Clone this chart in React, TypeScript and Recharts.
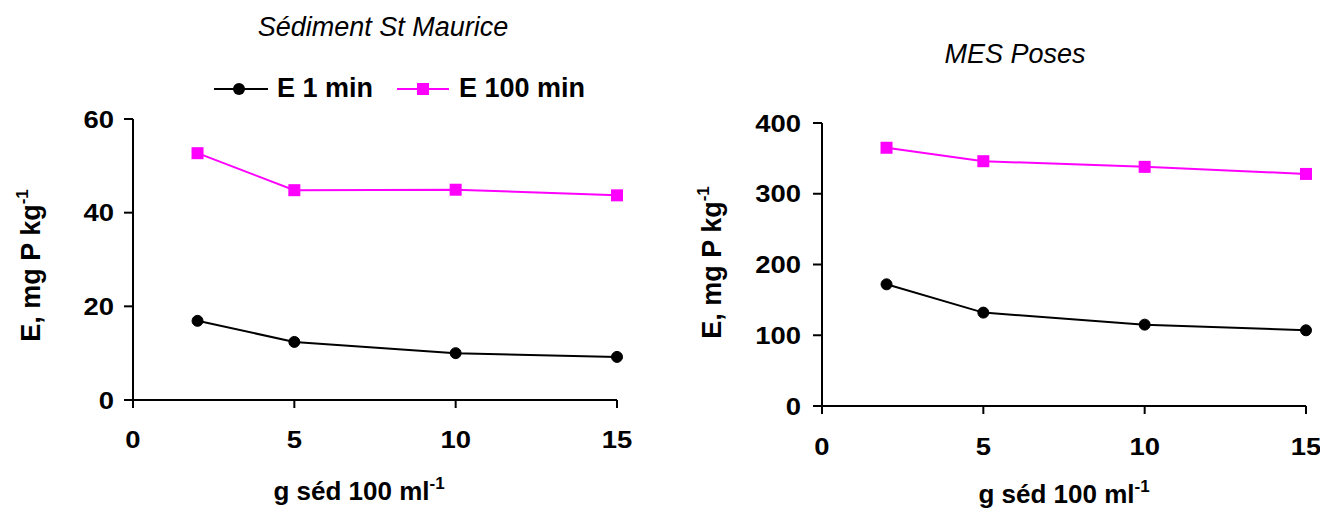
import React from 'react';
import { LineChart, Line, XAxis, YAxis, Legend } from 'recharts';

const FONT = "'Liberation Sans', Arial, Helvetica, sans-serif";
const PINK = '#FF00FF';

// Data
const xValues = [2, 5, 10, 15];
const xTicks = [0, 5, 10, 15];
const stMauriceE1 = [16.9, 12.4, 10.0, 9.2];
const stMauriceE100 = [52.7, 44.8, 44.9, 43.7];
const posesE1 = [172, 132, 115, 107];
const posesE100 = [365, 346, 338, 328];
const stMauriceYTicks = [0, 20, 40, 60];
const posesYTicks = [0, 100, 200, 300, 400];
const seriesNames = { e1: 'E 1 min', e100: 'E 100 min' };
const leftTitle = 'Sédiment St Maurice';
const rightTitle = 'MES Poses';
const yTitle = 'E, mg P kg';
const xTitle = 'g séd 100 ml';

const leftData = xValues.map((x, i) => ({ x, e1: stMauriceE1[i], e100: stMauriceE100[i] }));
const rightData = xValues.map((x, i) => ({ x, e1: posesE1[i], e100: posesE100[i] }));

const axisLine = { stroke: '#000', strokeWidth: 2 };
const TICK_SIZE = 24.5;
const TICK_STRETCH = 1.12;

const XTick = (props: any) => {
  const { x, y, payload } = props;
  return (
    <text
      x={x}
      y={y}
      dy="0.71em"
      textAnchor="middle"
      fontFamily={FONT}
      fontWeight="bold"
      fontSize={TICK_SIZE}
      fill="#000"
      transform={`translate(${x},${y}) scale(${TICK_STRETCH},1) translate(${-x},${-y})`}
    >
      {payload.value}
    </text>
  );
};

const YTick = (props: any) => {
  const { x, y, payload } = props;
  return (
    <text
      x={x}
      y={y}
      dy="0.355em"
      textAnchor="end"
      fontFamily={FONT}
      fontWeight="bold"
      fontSize={TICK_SIZE}
      fill="#000"
      transform={`translate(${x},${y}) scale(${TICK_STRETCH},1) translate(${-x},${-y})`}
    >
      {payload.value}
    </text>
  );
};

const SquareDot = (props: any) => {
  const { cx, cy, index } = props;
  if (cx == null || cy == null) return null;
  return <rect key={`sq-${index}`} x={cx - 6} y={cy - 6} width={12} height={12} fill={PINK} stroke="none" />;
};

const makeXTitle = (dx: number, dy: number) => (props: any) => {
  const vb = props.viewBox || {};
  const cx = vb.x + vb.width / 2 + dx;
  const cy = vb.y + dy;
  return (
    <text x={cx} y={cy} textAnchor="middle" fontFamily={FONT} fontWeight="bold" fontSize={26} fill="#000">
      {xTitle}
      <tspan dy={-11} fontSize={17}>-1</tspan>
    </text>
  );
};

const makeYTitle = (bx: number, dy: number) => (props: any) => {
  const vb = props.viewBox || {};
  const cx = vb.x + bx;
  const cy = vb.y + vb.height / 2 + dy;
  return (
    <text
      x={cx}
      y={cy}
      transform={`rotate(-90, ${cx}, ${cy})`}
      textAnchor="middle"
      fontFamily={FONT}
      fontWeight="bold"
      fontSize={27}
      fill="#000"
    >
      {yTitle}
      <tspan dy={-12} fontSize={17}>-1</tspan>
    </text>
  );
};

const renderLegend = (props: any) => {
  const payload = props.payload || [];
  return (
    <div
      style={{
        display: 'flex',
        alignItems: 'center',
        fontFamily: FONT,
        fontWeight: 'bold',
        fontSize: 27,
        lineHeight: '27px',
        color: '#000',
        whiteSpace: 'nowrap',
      }}
    >
      {payload.map((entry: any, i: number) => {
        const isSquare = entry.dataKey === 'e100';
        const color = entry.color;
        return (
          <div key={`lg-${i}`} style={{ display: 'flex', alignItems: 'center', marginRight: i === 0 ? 24 : 0 }}>
            <svg width={isSquare ? 52 : 54} height={20} style={{ display: 'block' }}>
              <line x1={0} y1={10} x2={isSquare ? 52 : 54} y2={10} stroke={color} strokeWidth={2} />
              {isSquare ? (
                <rect x={20} y={4} width={12} height={12} fill={color} />
              ) : (
                <circle cx={25} cy={10} r={6} fill={color} />
              )}
            </svg>
            <span style={{ marginLeft: isSquare ? 10 : 9 }}>{entry.value}</span>
          </div>
        );
      })}
    </div>
  );
};

const titleStyle = (left: number, top: number): React.CSSProperties => ({
  position: 'absolute',
  left: left - 200,
  top,
  width: 400,
  textAlign: 'center',
  fontFamily: FONT,
  fontStyle: 'italic',
  fontSize: 27,
  lineHeight: '27px',
  color: '#000',
  whiteSpace: 'nowrap',
});

export default function App() {
  return (
    <div style={{ position: 'absolute', left: 0, top: 0, width: 1320, height: 512, background: '#fff', overflow: 'hidden' }}>
      <div style={{ position: 'absolute', left: 0, top: 0 }}>
        <LineChart width={660} height={512} data={leftData} margin={{ top: 119, right: 43, bottom: 0, left: 0 }}>
          <XAxis
            type="number"
            dataKey="x"
            domain={[0, 15]}
            ticks={xTicks}
            interval={0}
            height={112}
            tickSize={8}
            tickMargin={23}
            axisLine={axisLine}
            tickLine={axisLine}
            tick={XTick}
            label={makeXTitle(-16, 100)}
          />
          <YAxis
            type="number"
            domain={[0, 60]}
            ticks={stMauriceYTicks}
            interval={0}
            width={133}
            tickSize={9}
            tickMargin={10}
            axisLine={axisLine}
            tickLine={axisLine}
            tick={YTick}
            label={makeYTitle(40, 6)}
          />
          <Legend
            verticalAlign="middle"
            align="center"
            layout="horizontal"
            wrapperStyle={{ left: 214, top: 75, width: 'auto' }}
            content={renderLegend}
          />
          <Line
            type="linear"
            dataKey="e1"
            name={seriesNames.e1}
            stroke="#000"
            strokeWidth={2}
            dot={{ r: 5.5, fill: '#000', stroke: '#000', strokeWidth: 1 }}
            isAnimationActive={false}
          />
          <Line
            type="linear"
            dataKey="e100"
            name={seriesNames.e100}
            stroke={PINK}
            strokeWidth={2}
            dot={SquareDot}
            isAnimationActive={false}
          />
        </LineChart>
      </div>
      <div style={{ position: 'absolute', left: 660, top: 0 }}>
        <LineChart width={660} height={512} data={rightData} margin={{ top: 123, right: 14, bottom: 0, left: 0 }}>
          <XAxis
            type="number"
            dataKey="x"
            domain={[0, 15]}
            ticks={xTicks}
            interval={0}
            height={106}
            tickSize={8}
            tickMargin={24}
            axisLine={axisLine}
            tickLine={axisLine}
            tick={XTick}
            label={makeXTitle(0, 97)}
          />
          <YAxis
            type="number"
            domain={[0, 400]}
            ticks={posesYTicks}
            interval={0}
            width={162}
            tickSize={9}
            tickMargin={12}
            axisLine={axisLine}
            tickLine={axisLine}
            tick={YTick}
            label={makeYTitle(61, -2)}
          />
          <Line
            type="linear"
            dataKey="e1"
            name={seriesNames.e1}
            stroke="#000"
            strokeWidth={2}
            dot={{ r: 5.5, fill: '#000', stroke: '#000', strokeWidth: 1 }}
            isAnimationActive={false}
          />
          <Line
            type="linear"
            dataKey="e100"
            name={seriesNames.e100}
            stroke={PINK}
            strokeWidth={2}
            dot={SquareDot}
            isAnimationActive={false}
          />
        </LineChart>
      </div>
      <div style={titleStyle(383, 14)}>{leftTitle}</div>
      <div style={titleStyle(1015, 41)}>{rightTitle}</div>
    </div>
  );
}
